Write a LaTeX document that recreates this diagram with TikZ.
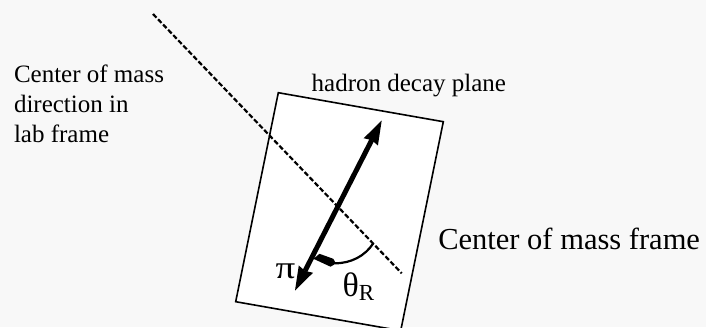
\documentclass[tikz,border=0pt]{standalone}
\usepackage{fontspec}
\setmainfont{Liberation Serif}
\usetikzlibrary{arrows.meta}
\definecolor{bgcol}{HTML}{F8F8F8}
\begin{document}
\begin{tikzpicture}[x=1pt,y=-1pt,
  lbl/.style={inner sep=0pt, outer sep=0pt, anchor=base west},
  small/.style={font=\fontsize{25}{30}\selectfont},
  big/.style={font=\fontsize{30.5}{34}\selectfont},
  plane/.style={draw=black, line width=1.6pt, fill=white},
  dirline/.style={draw=black, line width=2.2pt, dash pattern=on 5pt off 2.3pt},
  pionarrow/.style={draw=black, line width=5pt,
     {Stealth[length=24pt 0,width=16pt 0,inset=2pt 0,line width=0pt]}-{Stealth[length=24pt 0,width=16pt 0,inset=2pt 0,line width=0pt]}},
  anglearc/.style={draw=black, line width=2.2pt},
  anglehead/.style={fill=black, draw=none}]
\useasboundingbox (0,0) rectangle (706,327);
\fill[bgcol] (0,0) rectangle (706,327);
% hadron decay plane
\begin{scope}
\clip (0,0) rectangle (706,327);
\coordinate (TL) at (278.3,92.7);
\coordinate (TR) at (443.3,121.7);
\coordinate (BR) at (400.7,330.7);
\coordinate (BL) at (235.7,301.7);
\path[plane] (TL) -- (TR) -- (BR) -- (BL) -- cycle;
\end{scope}
% centre of mass direction
\coordinate (d1) at (153,14);
\coordinate (d2) at (401.7,273.3);
\path[dirline] (d1) -- (d2);
% pion / decay axis
\coordinate (ptop) at (381.7,120.5);
\coordinate (pbot) at (295,290.5);
\path[pionarrow] (pbot) -- (ptop);
% angle
\coordinate (a1) at (373.3,243.3);
\coordinate (a2) at (335,263.3);
\path[anglearc] (a1) .. controls (365,256) and (351,263.3) .. (a2);
\fill[anglehead] (313.5,258.8) -- (319.5,253.8) -- (333.3,258.8) -- (336,263.5) -- (330.5,266.7) -- cycle;
% labels
\node[lbl, small] (hdp) at (311.7,91.7) {hadron decay plane};
\node[lbl, big] (cmf) at (438.3,249.3) {Center of mass frame};
\node[lbl, small, align=left] (cmd) at (14,142.3) {Center of mass\\direction in\\lab frame};
\node[lbl, font=\fontsize{32}{32}\selectfont, anchor=base] (pi) at (285.5,278.3) {\scalebox{1.22}[1]{π}};
\node[lbl] (theta) at (342.5,296) {\fontsize{34}{34}\selectfont θ\raisebox{-4.7pt}{\fontsize{23}{23}\selectfont R}};
\end{tikzpicture}
\end{document}
